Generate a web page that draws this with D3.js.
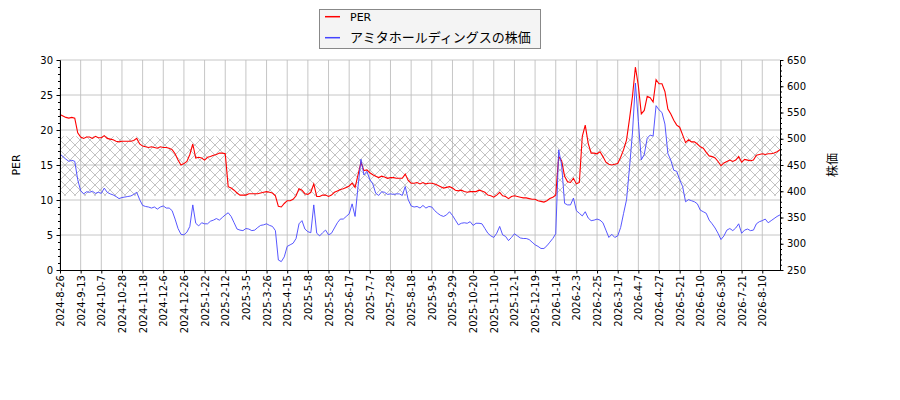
<!DOCTYPE html>
<html lang="ja">
    <head>
        <meta charset="utf-8">
        <title>PER と株価</title>
        <script type="text/javascript" src="https://d3js.org/d3.v7.min.js"></script>
        <style type="text/css">
            body { margin: 0; background: #fff; }
            .axis text { font-family: "DejaVu Sans", sans-serif; font-size: 10px; fill: #000; }
            .axis path, .axis line { stroke: #000; }
        </style>
    </head>
    <body>
        <script type="text/javascript">

        //Data: sampled every 2 trading days, index 0 = 2024-8-26
        const sampleStep = 2;
        const lastIndex = 488;
        const tickStep = 14;

        const tickLabels = ["2024-8-26","2024-9-13","2024-10-7","2024-10-28","2024-11-18","2024-12-6",
            "2024-12-26","2025-1-22","2025-2-12","2025-3-5","2025-3-26","2025-4-15","2025-5-8",
            "2025-5-28","2025-6-17","2025-7-7","2025-7-28","2025-8-18","2025-9-5","2025-9-29",
            "2025-10-20","2025-11-10","2025-12-1","2025-12-19","2026-1-14","2026-2-3","2026-2-25",
            "2026-3-17","2026-4-7","2026-4-27","2026-5-21","2026-6-10","2026-6-30","2026-7-21","2026-8-10"];

        const perValues = [
            22.2,22.0,21.8,21.7,21.8,21.7,19.6,19.0,18.8,19.0,
            19.0,18.8,19.1,18.9,18.9,19.2,18.8,18.7,18.6,18.4,
            18.3,18.4,18.4,18.4,18.4,18.5,18.8,18.0,17.7,17.6,
            17.5,17.6,17.5,17.4,17.6,17.5,17.5,17.4,17.2,16.6,
            15.7,15.0,15.2,15.5,16.5,18.0,16.0,16.1,16.0,15.7,
            16.1,16.2,16.4,16.5,16.7,16.7,16.6,11.9,11.7,11.4,
            11.0,10.7,10.7,10.7,10.9,10.9,10.9,10.9,11.0,11.1,
            11.2,11.1,11.0,10.6,9.1,9.0,9.5,9.9,9.9,10.1,
            10.6,11.6,11.4,10.9,10.8,11.1,12.3,10.5,10.5,10.7,
            10.7,10.5,10.7,11.1,11.3,11.5,11.6,11.8,12.0,12.4,
            11.8,13.6,15.4,14.2,14.3,13.9,13.6,13.4,13.2,13.4,
            13.3,13.1,13.2,13.2,13.1,13.1,13.1,13.7,12.8,12.4,
            12.4,12.5,12.3,12.5,12.3,12.4,12.4,12.3,12.1,11.9,
            11.7,11.8,11.9,11.7,11.4,11.3,11.4,11.2,11.1,11.2,
            11.2,11.2,11.4,11.3,11.1,10.7,10.6,10.4,10.7,11.1,
            10.6,10.5,10.2,10.5,10.6,10.5,10.4,10.3,10.3,10.2,
            10.1,10.1,9.9,9.8,9.7,9.9,10.2,10.4,10.7,16.2,
            15.6,13.4,12.6,12.5,13.1,12.3,12.5,19.1,20.7,18.1,
            16.7,16.7,16.6,16.9,16.2,15.4,15.1,15.0,15.1,15.2,
            16.1,17.2,18.6,21.6,24.8,29.0,26.3,22.3,22.8,24.8,
            24.6,24.0,27.2,26.6,26.6,25.5,23.0,22.3,21.4,20.7,
            20.4,19.3,18.2,18.6,18.3,18.3,18.0,17.6,17.4,16.8,
            16.3,16.2,16.0,15.5,14.9,15.3,15.5,15.7,15.5,15.7,
            16.2,15.4,15.8,15.7,15.6,15.7,16.4,16.5,16.6,16.5,
            16.6,16.6,16.7,16.9,17.2];

        const priceValues = [
            471,466,461,457,459,457,422,401,395,399,
            398,400,396,398,396,406,398,395,393,390,
            386,388,389,390,391,394,398,384,373,371,
            370,368,370,366,370,372,368,368,363,347,
            329,318,317,322,333,374,339,334,340,338,
            338,343,345,348,345,350,355,359,352,340,
            328,326,325,329,328,325,326,331,335,336,
            338,335,333,325,269,266,275,295,298,301,
            310,338,344,328,323,321,374,320,315,321,
            326,317,320,330,340,347,347,352,357,376,
            352,409,461,431,438,422,414,396,392,399,
            398,394,395,394,395,395,392,409,384,372,
            370,371,368,373,368,371,370,363,358,354,
            352,355,361,354,345,336,339,340,339,342,
            335,339,339,338,329,320,315,312,320,333,
            317,314,306,312,319,315,311,310,310,308,
            303,298,295,291,291,296,303,310,319,479,
            450,377,374,374,387,363,358,353,361,349,
            344,345,347,345,340,326,312,318,312,315,
            331,358,384,445,511,606,533,460,470,501,
            507,505,563,555,550,528,472,459,440,438,
            422,409,380,384,382,380,376,364,361,358,
            345,338,330,320,308,315,326,329,325,330,
            338,320,326,328,325,326,338,342,344,347,
            340,344,348,352,355];

        //PER range band (hatched)
        const bandLow = 10.6;
        const bandHigh = 19.1;

        const seriesNames = ["PER", "アミタホールディングスの株価"];

        //Layout
        const width = 900;
        const height = 400;
        const plotLeft = 60, plotRight = 780, plotTop = 60, plotBottom = 270;

        const tickIdx = tickLabels.map((d, i) => i * tickStep);

        //Scales
        const xScale = d3.scaleLinear().domain([0, lastIndex]).range([plotLeft, plotRight]);
        const yLeft = d3.scaleLinear().domain([0, 30]).range([plotBottom, plotTop]);
        const yRight = d3.scaleLinear().domain([250, 650]).range([plotBottom, plotTop]);

        const svg = d3.select("body").append("svg")
            .attr("width", width)
            .attr("height", height);

        //Hatch pattern
        const pat = svg.append("defs").append("pattern")
            .attr("id", "hatch")
            .attr("patternUnits", "userSpaceOnUse")
            .attr("width", 10).attr("height", 10);
        pat.append("path")
            .attr("d", "M0,0L10,10M10,0L0,10")
            .attr("stroke", "#9a9a9a")
            .attr("stroke-width", 0.6)
            .attr("fill", "none");

        //Grid
        const grid = svg.append("g").attr("stroke", "#c0c0c0").attr("stroke-width", 0.9);
        grid.selectAll("line.v").data(tickIdx).enter().append("line")
            .attr("x1", d => xScale(d)).attr("x2", d => xScale(d))
            .attr("y1", plotTop).attr("y2", plotBottom);
        grid.selectAll("line.h").data(d3.range(5, 31, 5)).enter().append("line")
            .attr("x1", plotLeft).attr("x2", plotRight)
            .attr("y1", d => yLeft(d)).attr("y2", d => yLeft(d));

        //Band
        const band = d3.area()
            .x(d => xScale(d))
            .y0(yLeft(bandLow))
            .y1(yLeft(bandHigh));
        svg.append("path")
            .datum([0, lastIndex])
            .attr("d", band)
            .attr("fill", "url(#hatch)");

        //Lines
        const perPts = perValues.map((v, k) => [k * sampleStep, v]);
        const pricePts = priceValues.map((v, k) => [k * sampleStep, v]);

        svg.append("path")
            .datum(perPts)
            .attr("d", d3.line().x(d => xScale(d[0])).y(d => yLeft(d[1])))
            .attr("fill", "none")
            .attr("stroke", "#ff0000")
            .attr("stroke-width", 1.1);

        svg.append("path")
            .datum(pricePts)
            .attr("d", d3.line().x(d => xScale(d[0])).y(d => yRight(d[1])))
            .attr("fill", "none")
            .attr("stroke", "#4444ff")
            .attr("stroke-width", 0.9);

        //Axes
        svg.append("g").attr("class", "axis")
            .attr("transform", "translate(" + plotLeft + ",0)")
            .call(d3.axisLeft(yLeft).tickValues(d3.range(0, 31, 1)).tickSize(2).tickSizeOuter(0).tickFormat(""));
        svg.append("g").attr("class", "axis")
            .attr("transform", "translate(" + plotLeft + ",0)")
            .call(d3.axisLeft(yLeft).tickValues(d3.range(0, 31, 5)).tickSize(3.5).tickPadding(3.5).tickSizeOuter(0));

        svg.append("g").attr("class", "axis")
            .attr("transform", "translate(" + plotRight + ",0)")
            .call(d3.axisRight(yRight).tickValues(d3.range(250, 651, 10)).tickSize(2).tickSizeOuter(0).tickFormat(""));
        svg.append("g").attr("class", "axis")
            .attr("transform", "translate(" + plotRight + ",0)")
            .call(d3.axisRight(yRight).tickValues(d3.range(250, 651, 50)).tickSize(3.5).tickPadding(3.5).tickSizeOuter(0));

        const xAxis = svg.append("g").attr("class", "axis")
            .attr("transform", "translate(0," + plotBottom + ")")
            .call(d3.axisBottom(xScale).tickValues(tickIdx)
                .tickFormat((d, i) => tickLabels[i])
                .tickSize(3.5).tickSizeOuter(0));
        xAxis.selectAll("text")
            .attr("transform", "rotate(-90)")
            .attr("text-anchor", "end")
            .attr("x", -5)
            .attr("y", 0)
            .attr("dy", "0.35em");

        //Axis labels
        svg.append("text")
            .attr("transform", "translate(20,165) rotate(-90)")
            .attr("text-anchor", "middle")
            .attr("font-family", "DejaVu Sans")
            .attr("font-size", 11)
            .text("PER");
        svg.append("text")
            .attr("transform", "translate(837,165) rotate(-90)")
            .attr("text-anchor", "middle")
            .attr("font-family", "Noto Sans CJK JP")
            .attr("font-size", 12)
            .text("株価");

        //Legend
        const legend = svg.append("g");
        legend.append("rect")
            .attr("x", 319.5).attr("y", 9.5)
            .attr("width", 221).attr("height", 39)
            .attr("fill", "#f4f4f4")
            .attr("stroke", "#888");
        const legendColors = ["#ff0000", "#4444ff"];
        seriesNames.forEach((name, i) => {
            const y = 16.7 + i * 21;
            legend.append("line")
                .attr("x1", 325).attr("x2", 340)
                .attr("y1", y).attr("y2", y)
                .attr("stroke", legendColors[i])
                .attr("stroke-width", 1.5);
            legend.append("text")
                .attr("x", 350).attr("y", y)
                .attr("dy", "0.36em")
                .attr("font-family", "DejaVu Sans, Noto Sans CJK JP")
                .attr("font-size", i === 0 ? 11 : 13)
                .text(name);
        });

        </script>
    </body>
</html>
